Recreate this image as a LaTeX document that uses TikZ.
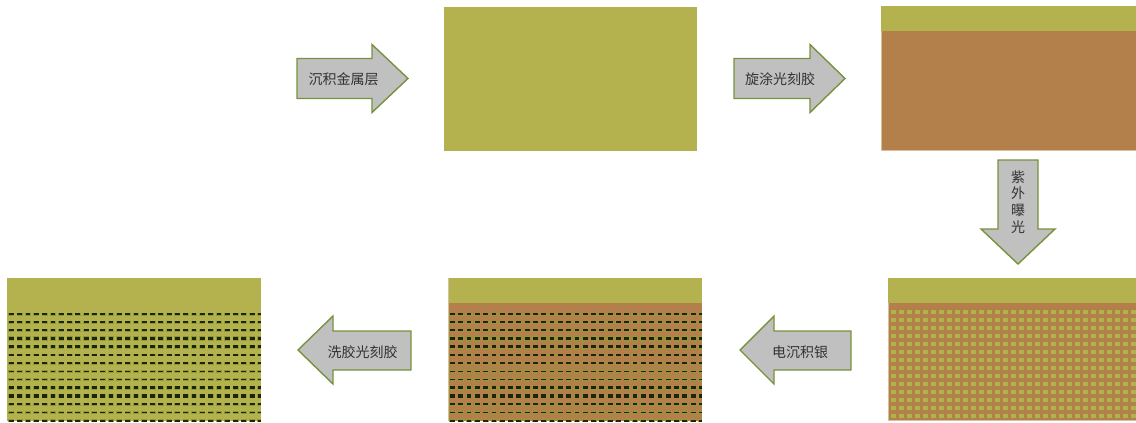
\documentclass[tikz,border=0pt]{standalone}
\usepackage{fontspec}
\newfontfamily\cjk{Noto Sans CJK SC}
\definecolor{metalc}{HTML}{B3B24E}
\definecolor{resistc}{HTML}{B37F4B}
\definecolor{dotc}{HTML}{ADB44A}
\definecolor{dashc}{HTML}{1C2606}
\definecolor{haloc}{HTML}{8F9C36}
\definecolor{arrowfill}{HTML}{C0C0C0}
\definecolor{arrowedge}{HTML}{76923C}
\definecolor{txtc}{HTML}{333333}
\definecolor{edgec}{HTML}{D9C09C}
\begin{document}
\begin{tikzpicture}[x=1pt,y=-1pt,
  arrowbox/.style={fill=arrowfill,draw=arrowedge,line width=1.4pt,line join=miter},
  lbl/.style={font=\cjk\fontsize{14}{16.7}\selectfont,text=txtc,inner sep=0pt,align=center},
  metal/.style={fill=metalc},
  resist/.style={fill=resistc},
  paneledge/.style={draw=edgec,line width=0.6pt},
  dashrow/.style={draw=dashc,dash pattern=on 4.8pt off 3.5pt},
  halorow/.style={draw=haloc,dash pattern=on 6pt off 2.3pt},
  dotrow/.style={draw=dotc,line width=4.8pt,dash pattern=on 4.8pt off 3.2pt}]
\path[use as bounding box] (0,0) rectangle (1136,423);

% ---- panel 1: metal layer
\fill[metal] (444,7) rectangle (697,151);

% ---- panel 2: photoresist on metal
\fill[resist] (881,6) rectangle (1136,151);
\fill[metal] (881,6) rectangle (1136,30.5);
\draw[paneledge] (881.3,30.5) -- (881.3,150.7) -- (1136,150.7);

% ---- panel 3: exposed (dots)
\fill[resist] (888,278) rectangle (1136,421);
\fill[metal] (888,278) rectangle (1136,302.5);
\begin{scope}
\clip (888,302.5) rectangle (1136,421);
\foreach \yy in {312,320,...,420}
  \draw[dotrow] (891,\yy) -- (1136,\yy);
\end{scope}
\draw[paneledge] (888.3,302.5) -- (888.3,420.7) -- (1136,420.7);

% ---- panel 4: electro-deposited silver in resist
\fill[resist] (448,278) rectangle (702,421);
\fill[metal] (448,278) rectangle (702,302.5);
\begin{scope}
\clip (448,302.5) rectangle (702,421);
\foreach \yy/\ww in {314/1.8,322.2/1.8,330.4/2.1,338.6/3.3,346.8/3.3,355/1.6,363.2/1.8,371.4/1.8,379.6/1.6,387.8/3,396/3.3,404.2/1.8,412.4/1.8,420.6/1.8}{
  \draw[halorow,line width=\ww pt+1.2pt] (449.4,\yy) -- (702,\yy);
  \draw[dashrow,line width=\ww pt] (450,\yy) -- (702,\yy);
}
\end{scope}
\draw[paneledge] (448.3,278) -- (448.3,420.7);

% ---- panel 5: resist removed
\fill[metal] (7,278) rectangle (261,421);
\begin{scope}
\clip (7,278) rectangle (261,421);
\foreach \yy/\ww in {314/1.8,322.2/1.8,330.4/2.1,338.6/3.3,346.8/3.3,355/1.6,363.2/1.8,371.4/1.8,379.6/1.6,387.8/3,396/3.3,404.2/1.8,412.4/1.8,420.6/1.8}{
  \draw[halorow,line width=\ww pt+1.2pt] (8.4,\yy) -- (261,\yy);
  \draw[dashrow,line width=\ww pt] (9,\yy) -- (261,\yy);
}
\end{scope}

% ---- block arrows
% arrow 1 (right)
\draw[arrowbox] (297,58.5) -- (372,58.5) -- (372,44.5) -- (408,78.5) -- (372,112.5) -- (372,98.5) -- (297,98.5) -- cycle;
\node[lbl] (a1) at (343.5,79) {沉积金属层};
% arrow 2 (right)
\draw[arrowbox] (734,58.5) -- (810,58.5) -- (810,44.5) -- (845,78.5) -- (810,112.5) -- (810,98.5) -- (734,98.5) -- cycle;
\node[lbl] (a2) at (780,79) {旋涂光刻胶};
% arrow 3 (down)
\draw[arrowbox] (998,160) -- (1038,160) -- (1038,229) -- (1055,229) -- (1018,264) -- (981,229) -- (998,229) -- cycle;
\node[lbl] (a3) at (1018,202) {紫\\外\\曝\\光};
% arrow 4 (left)
\draw[arrowbox] (851,331) -- (774,331) -- (774,316) -- (740,350) -- (774,384) -- (774,370) -- (851,370) -- cycle;
\node[lbl] (a4) at (800,352) {电沉积银};
% arrow 5 (left)
\draw[arrowbox] (411,331) -- (333,331) -- (333,316) -- (298,350) -- (333,384) -- (333,370) -- (411,370) -- cycle;
\node[lbl] (a5) at (362.5,352) {洗胶光刻胶};
\end{tikzpicture}
\end{document}
